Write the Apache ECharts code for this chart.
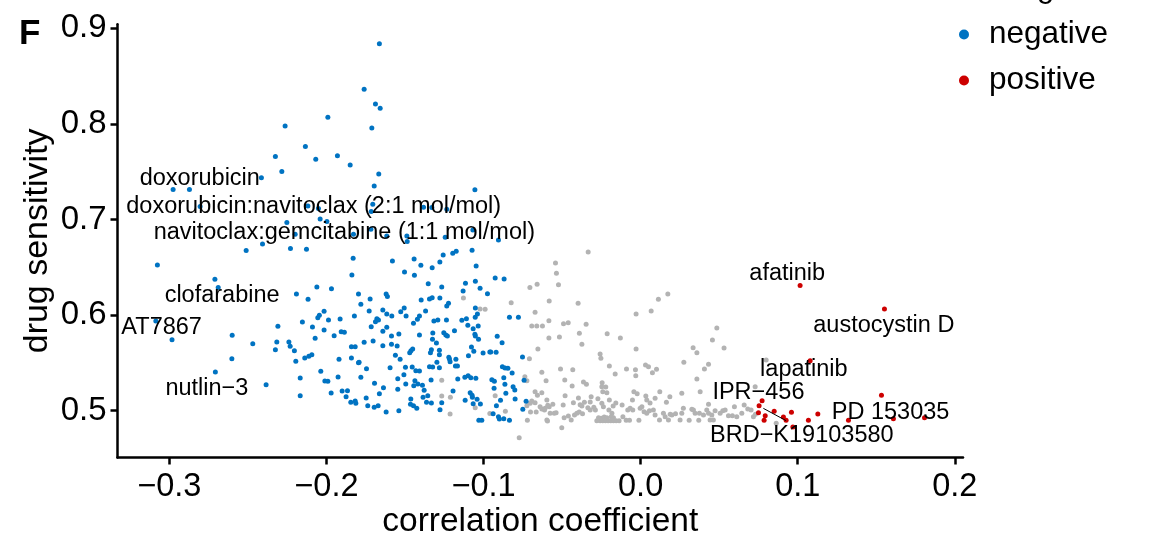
<!DOCTYPE html>
<html><head><meta charset="utf-8">
<script src="https://cdn.jsdelivr.net/npm/echarts@6/dist/echarts.min.js"></script>
<style>html,body{margin:0;padding:0;background:#fff}#c{width:1162px;height:539px}</style>
</head><body><div id="c"></div>
<script>
const xTicks = [-0.3, -0.2, -0.1, 0.0, 0.1, 0.2];
const yTicks = [0.5, 0.6, 0.7, 0.8, 0.9];
const legendItems = ['negative', 'positive'];

const negative = [
[-0.1663,0.8836],[-0.176,0.836],[-0.1688,0.8208],[-0.1658,0.8163],[-0.1991,0.8069],[-0.2263,0.7978],[-0.1711,0.7957],[-0.2134,0.7762],[-0.2325,0.7657],[-0.2068,0.763],[-0.193,0.7667],[-0.1849,0.757],[-0.2284,0.75],[-0.1667,0.7476],[-0.2414,0.7437],[-0.1696,0.735],[-0.2976,0.7312],[-0.2872,0.7312],[-0.2804,0.7134],[-0.2118,0.7141],[-0.2051,0.7113],[-0.1705,0.7159],[-0.1715,0.7082],[-0.204,0.7005],
[-0.1055,0.7309],[-0.1382,0.7128],[-0.1329,0.7124],[-0.1234,0.7107],[-0.1488,0.6827],[-0.1616,0.6827],[-0.1244,0.6814],[-0.1068,0.689],[-0.0905,0.6786],[-0.1486,0.6768],
[-0.2252,0.6967],[-0.2199,0.6845],[-0.1997,0.6977],[-0.1828,0.6845],[-0.1717,0.6897],
[-0.2407,0.6744],[-0.2511,0.6674],[-0.2229,0.6695],[-0.2127,0.6688],[-0.183,0.6594],[-0.3076,0.6524],[-0.1838,0.6419],[-0.271,0.6374],[-0.2689,0.6287],[-0.2061,0.6294],[-0.1968,0.6276],[-0.2191,0.6221],[-0.2117,0.6165],[-0.1796,0.6221],[-0.2015,0.604],[-0.2045,0.5998],[-0.2055,0.5973],[-0.1987,0.5949],[-0.1913,0.5959],[-0.1822,0.5991],[-0.2153,0.5928],[-0.2309,0.5883],[-0.2089,0.5876],[-0.2015,0.5844],[-0.1906,0.5826],[-0.1886,0.582],[-0.1951,0.5785],[-0.2072,0.5757],[-0.2983,0.5743],[-0.3086,0.5938],[-0.26,0.5789],[-0.2469,0.5701],[-0.2602,0.5544],[-0.2707,0.5405],[-0.2384,0.5272],[-0.2316,0.5719],[-0.2325,0.5638],[-0.2239,0.5719],[-0.2231,0.5674],[-0.2204,0.5628],[-0.2195,0.5517],[-0.2138,0.5551],[-0.2112,0.5569],[-0.2093,0.5586],[-0.2167,0.5342],[-0.2167,0.5157],[-0.2036,0.5412],[-0.201,0.5311],[-0.1991,0.5308],[-0.197,0.5185],[-0.1926,0.5353],[-0.192,0.5538],[-0.1841,0.5669],[-0.1841,0.5551],[-0.1817,0.5669],[-0.1796,0.5502],[-0.19,0.5206],[-0.1866,0.5209],[-0.1875,0.5146],[-0.1845,0.5088],[-0.1817,0.5101],[-0.1813,0.5077],
[-0.158,0.6566],[-0.1442,0.6587],[-0.1399,0.6521],[-0.1503,0.6451],[-0.144,0.6416],[-0.1327,0.6496],[-0.1278,0.6555],[-0.1257,0.6629],[-0.1196,0.6646],[-0.1174,0.6667],[-0.1073,0.6678],[-0.1047,0.6514],[-0.1352,0.6328],[-0.1266,0.6294],[-0.1115,0.6333],[-0.1052,0.6354],[-0.1022,0.628],[-0.113,0.6252],[-0.0975,0.6224],[-0.0926,0.6388],[-0.0869,0.6378],[-0.162,0.6221],[-0.1612,0.6193],[-0.1722,0.6168],[-0.1781,0.6113],[-0.1397,0.6158],[-0.1344,0.6168],[-0.1327,0.6182],[-0.1278,0.6179],[-0.1223,0.6123],[-0.1234,0.6095],[-0.1728,0.6043],[-0.1641,0.6053],[-0.1616,0.6012],[-0.1584,0.5991],[-0.1527,0.6036],[-0.1505,0.6074],[-0.1493,0.5991],[-0.1421,0.5956],[-0.1408,0.5991],[-0.1369,0.6043],[-0.1679,0.5962],[-0.1688,0.5931],[-0.1669,0.5949],[-0.1715,0.5879],[-0.1641,0.5831],[-0.1616,0.5872],[-0.1586,0.5781],[-0.1539,0.5802],[-0.1446,0.5914],[-0.1408,0.5792],[-0.176,0.5716],[-0.1703,0.5729],[-0.1641,0.568],[-0.1586,0.5695],[-0.155,0.5677],[-0.1561,0.558],[-0.1531,0.5538],[-0.1462,0.5628],[-0.1451,0.5645],[-0.147,0.5607],[-0.1792,0.5506],[-0.1745,0.5439],[-0.1781,0.5349],[-0.1694,0.5287],[-0.1637,0.5241],[-0.1663,0.5178],[-0.1747,0.5133],[-0.1737,0.5052],[-0.1696,0.5036],[-0.1671,0.5052],[-0.162,0.4986],[-0.1539,0.5],[-0.1595,0.545],[-0.1546,0.5335],[-0.1546,0.5224],[-0.1507,0.5377],[-0.1497,0.5454],[-0.1495,0.5279],[-0.1454,0.5457],[-0.1431,0.5418],[-0.1408,0.5415],[-0.1437,0.5314],[-0.1444,0.5262],[-0.1418,0.5279],[-0.1389,0.5266],[-0.1378,0.5213],[-0.1463,0.5122],[-0.1465,0.5067],[-0.1446,0.5052],[-0.1425,0.5025],[-0.1385,0.514],[-0.1355,0.5157],[-0.1363,0.5088],[-0.1332,0.508],[-0.1344,0.546],[-0.1332,0.5638],[-0.1338,0.5607],[-0.1323,0.5813],[-0.1325,0.5747],[-0.13,0.5708],[-0.1334,0.5321],[-0.1281,0.5632],[-0.1281,0.5586],[-0.1297,0.5506],[-0.1281,0.545],[-0.1324,0.5457],
[-0.1253,0.5816],[-0.124,0.5792],[-0.123,0.5781],[-0.1185,0.5837],[-0.1236,0.5949],[-0.1316,0.5938],[-0.1291,0.5949],[-0.1138,0.5946],[-0.1109,0.5962],[-0.11,0.5893],[-0.1066,0.5858],[-0.1034,0.5886],[-0.1053,0.5977],[-0.1052,0.6074],[-0.1039,0.6012],[-0.1055,0.5799],[-0.1052,0.5781],[-0.1032,0.5747],[-0.1077,0.5666],[-0.1062,0.5621],[-0.1096,0.5575],[-0.1003,0.5604],[-0.096,0.5614],[-0.0954,0.5614],[-0.092,0.5611],[-0.0913,0.5778],[-0.0882,0.5711],[-0.0835,0.5977],[-0.0778,0.5977],[-0.0752,0.5562],[-0.1221,0.5559],[-0.1217,0.5541],[-0.1213,0.5513],[-0.1176,0.5538],[-0.1179,0.5468],[-0.1166,0.5468],[-0.1164,0.5332],[-0.1194,0.5206],[-0.1119,0.5349],[-0.1098,0.5366],[-0.1081,0.5345],[-0.1049,0.5339],[-0.1085,0.5188],[-0.1073,0.5161],[-0.1071,0.514],[-0.1117,0.5109],[-0.1066,0.5073],[-0.1041,0.5119],[-0.102,0.507],[-0.103,0.49],[-0.1011,0.49],[-0.1266,0.5084],[-0.1277,0.501],[-0.0947,0.5324],[-0.0931,0.5308],[-0.0933,0.5234],[-0.088,0.546],[-0.0863,0.5447],[-0.0845,0.5443],[-0.0818,0.5394],[-0.0871,0.5345],[-0.0864,0.5276],[-0.0812,0.5251],[-0.0801,0.5217],[-0.0858,0.5182],[-0.0799,0.5122],[-0.0892,0.5109],[-0.0918,0.5052],[-0.0939,0.4969],[-0.0905,0.4937],[-0.0899,0.4913],[-0.0871,0.4916],[-0.0835,0.49],[-0.075,0.5015],[-0.0729,0.5098],[-0.0742,0.5318]
];

const neutral = [
[-0.1128,0.6179],[-0.1022,0.6064],[-0.099,0.606],[-0.1266,0.5318],[-0.1266,0.5154],[-0.1211,0.514],[-0.1213,0.4965],[-0.1053,0.5031],[-0.096,0.4972],[-0.0926,0.5157],[-0.0861,0.4994],[-0.0773,0.4718],[-0.0705,0.6287],[-0.0659,0.6322],[-0.0824,0.613],[-0.0672,0.6029],[-0.0693,0.5886],[-0.0661,0.5886],[-0.0625,0.5886],[-0.0582,0.6148],[-0.0584,0.5941],[-0.0584,0.576],[-0.0654,0.5645],[-0.0708,0.5544],[-0.0629,0.5402],[-0.0737,0.5356],[-0.0724,0.5314],[-0.0602,0.5314],
[-0.0672,0.5199],[-0.0657,0.5161],[-0.0629,0.5188],[-0.0693,0.5101],[-0.0703,0.5077],[-0.0724,0.5052],[-0.0672,0.5084],[-0.064,0.5042],[-0.0629,0.5018],[-0.0597,0.5112],[-0.0582,0.5042],[-0.0701,0.4986],[-0.0665,0.4986],[-0.0721,0.49],[-0.0597,0.4903],[-0.0612,0.5007],
[-0.0334,0.666],[-0.0542,0.6545],[-0.0536,0.6437],[-0.0523,0.6318],[-0.0398,0.6123],[0.0173,0.6221],[0.0113,0.6165],[0.0067,0.6043],[-0.0029,0.6012],[-0.0491,0.591],[-0.0461,0.592],[-0.0347,0.5904],[-0.039,0.581],[-0.0517,0.5771],[-0.0374,0.5695],[-0.0213,0.5805],[-0.0129,0.576],[-0.0029,0.5645],[-0.0258,0.5593],[-0.0253,0.5548],[-0.051,0.5436],[-0.0432,0.5429],[-0.0199,0.5468],[-0.0162,0.5384],[-0.009,0.5436],[-0.0033,0.5429],[-0.0031,0.5366],[0.0031,0.5478],[0.005,0.546],[0.0101,0.5433],[0.0075,0.5398],[0.0275,0.5506],[0.0334,0.5659],[0.0358,0.5607],[0.0457,0.574],[0.0485,0.5865],[0.0531,0.5656],[0.0432,0.5485],[0.0406,0.5436],[0.0358,0.5332],[0.0379,0.5199],[0.0262,0.5182],[0.0186,0.5146],[0.0164,0.5088],[0.0122,0.5199],[0.0092,0.513],[0.006,0.508],[0.0033,0.5154],[0.0039,0.5112],[-0.0022,0.5178],[-0.0043,0.5199],[-0.0052,0.5112],[-0.0082,0.5007],[-0.0118,0.506],[-0.0158,0.508],[-0.0175,0.5049],[-0.0199,0.5112],[-0.0202,0.5007],[-0.0183,0.4973],[-0.0237,0.5042],[-0.0247,0.5077],[-0.0272,0.5126],[-0.0245,0.5293],[-0.0247,0.5251],[-0.0222,0.5248],[-0.0241,0.5199],[-0.0215,0.5188],[-0.0315,0.5146],[-0.0345,0.5276],[-0.0364,0.53],[-0.0436,0.5258],[-0.0483,0.5321],[-0.0481,0.5157],[-0.0428,0.5084],[-0.0396,0.5133],[-0.0385,0.5063],[-0.0374,0.5049],[-0.0358,0.5088],[-0.0321,0.5091],[-0.0298,0.5036],[-0.0288,0.5007],
[-0.0279,0.4895],[-0.0258,0.4895],[-0.0241,0.4895],[-0.0224,0.4895],[-0.0207,0.4895],[-0.019,0.4895],[-0.0173,0.4895],[-0.0156,0.4895],[-0.0137,0.4895],
[-0.0268,0.4927],[-0.0251,0.4922],[-0.0232,0.4934],[-0.0215,0.4927],[-0.0187,0.4938],[-0.0173,0.4927],
[-0.0591,0.5058],[-0.0608,0.5025],[-0.0576,0.4973],[-0.055,0.4973],[-0.0538,0.498],[-0.0559,0.5067],[-0.0493,0.506],[-0.0593,0.4892],[-0.0502,0.4822],[-0.0487,0.4927],[-0.046,0.4945],[-0.0442,0.4903],[-0.0421,0.4955],[-0.0406,0.4973],[-0.0391,0.4986],[-0.037,0.4969],[-0.0336,0.5031],[-0.0321,0.5007],
[-0.0113,0.4937],[-0.0092,0.49],[-0.0071,0.49],[-0.0067,0.5025],[-0.005,0.5007],[-0.0011,0.49],[-0.0003,0.5025],[0.0008,0.5042],[0.0022,0.499],[0.0039,0.4973],[0.0056,0.5],[0.0081,0.5007],[0.0092,0.4955],[0.012,0.4903],[0.0145,0.4973],[0.0156,0.4937],[0.0177,0.4903],
[0.0188,0.4962],[0.0199,0.4955],[0.0222,0.4969],[0.0251,0.4903],[0.0262,0.4973],[0.0272,0.5025],[0.0309,0.49],[0.0326,0.5015],[0.0336,0.5007],[0.0347,0.4973],[0.037,0.49],[0.0374,0.4973],[0.04,0.4955],[0.0421,0.5007],[0.0432,0.4973],[0.0453,0.4955],[0.0474,0.5],[0.0432,0.5067],[0.0442,0.4903],[0.0463,0.4903],[0.0506,0.4973],[0.0523,0.5],[0.0538,0.5007],[0.0559,0.4948],[0.0584,0.4948],[0.0597,0.5042],[0.0612,0.4937],[0.0644,0.4973],[0.0659,0.506],[0.0682,0.5018],[0.0703,0.5007],[0.0729,0.5251],[0.0718,0.4937],
[0.0799,0.553],[0.0731,0.4962],[0.0863,0.4868]
];

const positive = [
[0.1015,0.6308],[0.1552,0.6064],[0.1079,0.5523],[0.1533,0.5161],[0.0773,0.5105],[0.0754,0.5052],[0.075,0.4979],[0.0793,0.4948],[0.0786,0.49],[0.085,0.4994],[0.0909,0.4934],[0.0926,0.49],[0.096,0.4983],[0.0969,0.483],[0.1068,0.49],[0.1128,0.4965],[0.1323,0.49],[0.1609,0.4916],[0.1807,0.4927]
];

const labelNames = ['doxorubicin','doxorubicin:navitoclax (2:1 mol/mol)','navitoclax:gemcitabine (1:1 mol/mol)','clofarabine','AT7867','nutlin\u22123','afatinib','austocystin D','lapatinib','IPR\u2212456','PD 153035','BRD\u2212K19103580'];
const labelX = [-0.2806,-0.2081,-0.1886,-0.2664,-0.3049,-0.2761,0.0933,0.1548,0.1039,0.075,0.1591,0.1026];
const labelY = [0.7428,0.7132,0.686,0.6208,0.5866,0.5228,0.6433,0.5894,0.5434,0.5188,0.4979,0.4738];
const repelSegment = [[0.0781,0.5025],[0.0926,0.4896]];

const FONT = 'Liberation Sans';
const chart = echarts.init(document.getElementById('c'), null, {renderer:'canvas'});
const fmtX = v => (v < -1e-9 ? '\u2212' : '') + Math.abs(v).toFixed(1);
chart.setOption({
  animation: false,
  backgroundColor: '#fff',
  textStyle: {fontFamily: FONT},
  grid: {left: 117.5, right: 199, top: 24.3, bottom: 81.6, containLabel: false, outerBoundsMode: 'none'},
  legend: {
    data: legendItems, orient: 'vertical', left: 954, top: 13.5,
    itemWidth: 40, itemHeight: 10, itemGap: 14, icon: 'circle', selectedMode: false,
    textStyle: {fontSize: 31.5, fontFamily: FONT, color: '#000', lineHeight: 31}
  },
  graphic: [
    {type: 'text', left: 19, top: 17, style: {text: 'F', font: 'bold 35px "Liberation Sans"', fill: '#000'}},
    {type: 'text', x: 963, y: -27, style: {text: 'Change', font: '31px "Liberation Sans"', fill: '#000'}}
  ],
  xAxis: {
    type: 'value', min: -0.333, max: 0.2052,
    axisLine: {show: true, onZero: false, lineStyle: {color: '#000', width: 2.5}},
    axisTick: {show: true, customValues: xTicks, length: 7, lineStyle: {color: '#000', width: 2.5}},
    axisLabel: {customValues: xTicks, formatter: fmtX, fontSize: 32.5, color: '#000', margin: 13, fontFamily: FONT},
    splitLine: {show: false},
    name: 'correlation coefficient', nameLocation: 'middle', nameGap: 47, nameMoveOverlap: false,
    nameTextStyle: {fontSize: 33.5, color: '#000', fontFamily: FONT}
  },
  yAxis: {
    type: 'value', min: 0.4512, max: 0.904,
    axisLine: {show: true, onZero: false, lineStyle: {color: '#000', width: 2.5}},
    axisTick: {show: true, customValues: yTicks, length: 7, lineStyle: {color: '#000', width: 2.5}},
    axisLabel: {customValues: yTicks, formatter: v => v.toFixed(1), fontSize: 33, color: '#000', margin: 11, fontFamily: FONT},
    splitLine: {show: false},
    name: 'drug sensitivity', nameLocation: 'middle', nameGap: 63, nameMoveOverlap: false,
    nameTextStyle: {fontSize: 34, color: '#000', fontFamily: FONT}
  },
  series: [
    {name: 'neutral', type: 'scatter', data: neutral, symbolSize: 5, itemStyle: {color: '#B3B3B3', opacity: 1}, z: 2},
    {name: 'negative', type: 'scatter', data: negative, symbolSize: 5, itemStyle: {color: '#0073C2', opacity: 1}, z: 3},
    {name: 'positive', type: 'scatter', data: positive, symbolSize: 5, itemStyle: {color: '#CD0000', opacity: 1}, z: 3},
    {name: 'segment', type: 'line', data: repelSegment, symbol: 'none', lineStyle: {color: '#000', width: 1}, z: 4, silent: true},
    {name: 'labels', type: 'scatter', symbolSize: 1, itemStyle: {color: '#fff', opacity: 1}, z: 5, silent: true,
     data: labelNames.map((n, i) => ({name: n, value: [labelX[i], labelY[i]]})),
     label: {show: true, position: 'inside', formatter: '{b}', fontSize: 23.5, color: '#000000', opacity: 1, fontFamily: FONT, textBorderWidth: 0, textBorderColor: 'transparent'}}
  ]
});
</script></body></html>
